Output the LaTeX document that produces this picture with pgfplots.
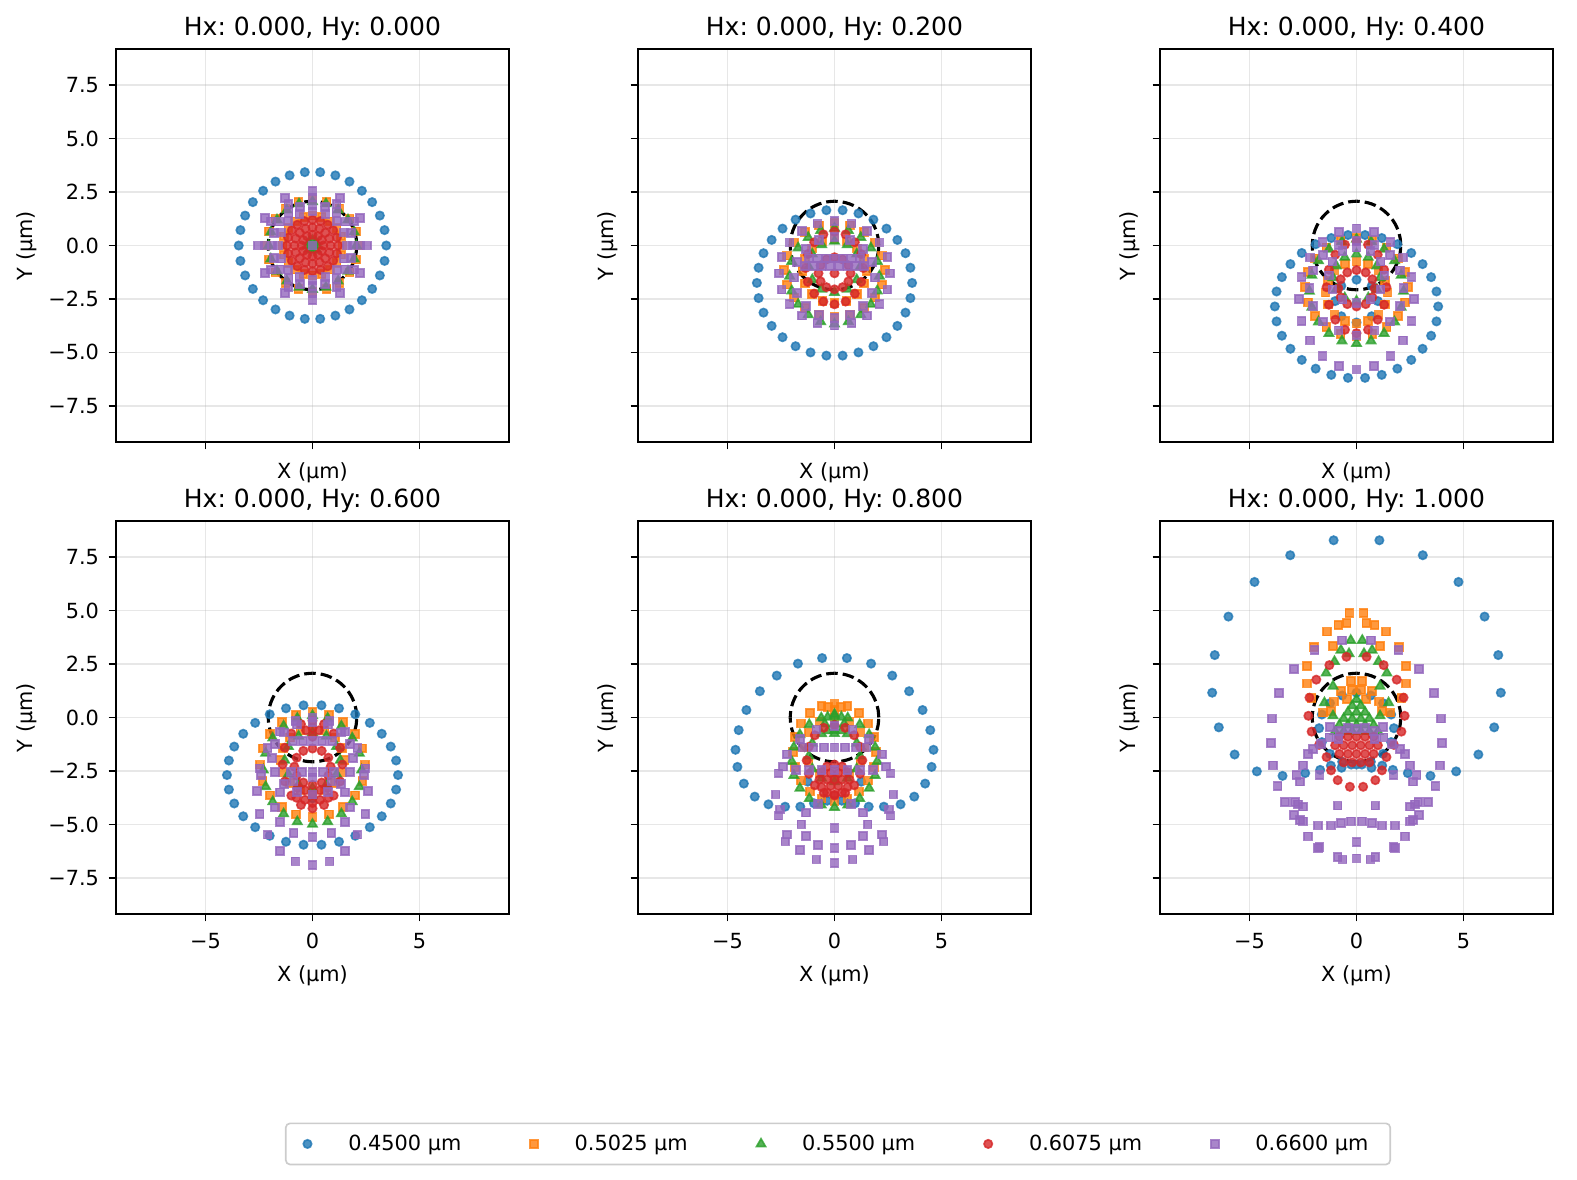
\documentclass[border=0pt]{standalone}
\usepackage{fontspec}
\setmainfont{DejaVu Sans}
\usepackage{pgfplots}
\pgfplotsset{compat=1.18}
\frenchspacing
\definecolor{c0}{HTML}{1F77B4}
\definecolor{c1}{HTML}{FF7F0E}
\definecolor{c2}{HTML}{2CA02C}
\definecolor{c3}{HTML}{D62728}
\definecolor{c4}{HTML}{9467BD}
\definecolor{gridc}{HTML}{B0B0B0}
\definecolor{legc}{HTML}{CCCCCC}
\pgfplotsset{
 s0/.style={only marks, mark=*, mark size=2.0pt, color=c0, mark options={opacity=0.8, line width=0.8pt, draw=c0, fill=c0}},
 s1/.style={only marks, mark=square*, mark size=1.9pt, color=c1, mark options={opacity=0.8, line width=0.8pt, draw=c1, fill=c1}},
 s2/.style={only marks, mark=triangle*, mark size=2.5pt, color=c2, mark options={opacity=0.8, line width=0.8pt, draw=c2, fill=c2}},
 s3/.style={only marks, mark=*, mark size=2.0pt, color=c3, mark options={opacity=0.8, line width=0.8pt, draw=c3, fill=c3}},
 s4/.style={only marks, mark=square*, mark size=1.9pt, color=c4, mark options={opacity=0.8, line width=0.8pt, draw=c4, fill=c4}},
 airy/.style={black, line width=1.5pt, dash pattern=on 5.55pt off 2.4pt, smooth, forget plot, no markers},
 panel/.style={
   width=188.64pt, height=188.64pt, scale only axis, anchor=north west,
   xmin=-9.19, xmax=9.19, ymin=-9.19, ymax=9.19,
   xtick={-5,0,5}, ytick={-7.5,-5,-2.5,0,2.5,5,7.5},
   xticklabels={}, yticklabels={},
   xtick pos=bottom, ytick pos=left,
   tick align=outside, major tick length=3.5pt,
   every tick/.style={black, line width=0.8pt},
   axis line style={line width=0.8pt},
   grid=major, major grid style={line width=0.8pt, color=gridc, opacity=0.3},
   axis on top,
   tick label style={font=\fontsize{10}{12}\selectfont},
   xticklabel style={anchor=north, inner sep=0pt, yshift=-5.5pt},
   yticklabel style={anchor=east, inner sep=0pt, xshift=-4.5pt},
   every axis title shift=0pt,
   title style={font=\fontsize{12}{14.4}\selectfont, at={(axis description cs:0.5,1)}, anchor=base, yshift=6.7pt},
   label style={font=\fontsize{10}{12}\selectfont},
   xlabel={X (µm)}, ylabel={Y (µm)},
 },
 toprow/.style={xlabel style={at={(axis description cs:0.5,-0.078)}, anchor=center}},
 botrow/.style={xticklabels={−5,0,5}, xlabel style={at={(axis description cs:0.5,-0.158)}, anchor=center}},
 leftcol/.style={yticklabels={−7.5,−5.0,−2.5,0.0,2.5,5.0,7.5}, ylabel style={at={(axis description cs:-0.2265,0.5)}, anchor=center}},
 othercol/.style={ylabel style={at={(axis description cs:-0.0763,0.5)}, anchor=center}},
}
\newcommand{\airy}{\addplot[airy] coordinates {(2.07,0) (2.039,0.360) (1.945,0.708) (1.793,1.035) (1.586,1.331) (1.331,1.586) (1.035,1.793) (0.708,1.945) (0.360,2.039) (0,2.07) (-0.360,2.039) (-0.708,1.945) (-1.035,1.793) (-1.331,1.586) (-1.586,1.331) (-1.793,1.035) (-1.945,0.708) (-2.039,0.360) (-2.07,0) (-2.039,-0.360) (-1.945,-0.708) (-1.793,-1.035) (-1.586,-1.331) (-1.331,-1.586) (-1.035,-1.793) (-0.708,-1.945) (-0.360,-2.039) (0,-2.07) (0.360,-2.039) (0.708,-1.945) (1.035,-1.793) (1.331,-1.586) (1.586,-1.331) (1.793,-1.035) (1.945,-0.708) (2.039,-0.360) (2.07,0)};}
\begin{document}
\frenchspacing
\begin{tikzpicture}
\path[use as bounding box] (0,0) rectangle (756.96pt,-565.92pt);
% ---------------- Panel 1
\begin{axis}[panel, toprow, leftcol, at={(55.68pt,-23.52pt)}, title={Hx: 0.000, Hy: 0.000}]
\addplot[s0] coordinates {(3.45,0)(-3.45,0)(3.37,0.72)(-3.37,0.72)(3.37,-0.72)(-3.37,-0.72)(3.15,1.40)(-3.15,1.40)(3.15,-1.40)(-3.15,-1.40)(2.79,2.03)(-2.79,2.03)(2.79,-2.03)(-2.79,-2.03)(2.31,2.56)(-2.31,2.56)(2.31,-2.56)(-2.31,-2.56)(1.73,2.99)(-1.73,2.99)(1.73,-2.99)(-1.73,-2.99)(1.07,3.28)(-1.07,3.28)(1.07,-3.28)(-1.07,-3.28)(0.36,3.43)(-0.36,3.43)(0.36,-3.43)(-0.36,-3.43)(0,0)};
\addplot[s1] coordinates {(2.15,0)(-2.15,0)(2.04,0.66)(-2.04,0.66)(2.04,-0.66)(-2.04,-0.66)(1.74,1.26)(-1.74,1.26)(1.74,-1.26)(-1.74,-1.26)(1.26,1.74)(-1.26,1.74)(1.26,-1.74)(-1.26,-1.74)(0.66,2.04)(-0.66,2.04)(0.66,-2.04)(-0.66,-2.04)(0,2.15)(0,-2.15)
(1.4,0)(-1.4,0)(1.33,0.43)(-1.33,0.43)(1.33,-0.43)(-1.33,-0.43)(1.13,0.82)(-1.13,0.82)(1.13,-0.82)(-1.13,-0.82)(0.82,1.13)(-0.82,1.13)(0.82,-1.13)(-0.82,-1.13)(0.43,1.33)(-0.43,1.33)(0.43,-1.33)(-0.43,-1.33)(0,1.4)(0,-1.4)};
\addplot[s2] coordinates {(2.05,0)(-2.05,0)(1.95,0.63)(-1.95,0.63)(1.95,-0.63)(-1.95,-0.63)(1.66,1.20)(-1.66,1.20)(1.66,-1.20)(-1.66,-1.20)(1.20,1.66)(-1.20,1.66)(1.20,-1.66)(-1.20,-1.66)(0.63,1.95)(-0.63,1.95)(0.63,-1.95)(-0.63,-1.95)(0,2.05)(0,-2.05)
(0.22,0)(-0.22,0)(0,0.22)(0,-0.22)(0.16,0.16)(-0.16,0.16)(0.16,-0.16)(-0.16,-0.16)};
\addplot[s3] coordinates {(1.2,0)(-1.2,0)(1.14,0.37)(-1.14,0.37)(1.14,-0.37)(-1.14,-0.37)(0.97,0.71)(-0.97,0.71)(0.97,-0.71)(-0.97,-0.71)(0.71,0.97)(-0.71,0.97)(0.71,-0.97)(-0.71,-0.97)(0.37,1.14)(-0.37,1.14)(0.37,-1.14)(-0.37,-1.14)(0,1.2)(0,-1.2)
(0.85,0)(-0.85,0)(0.79,0.33)(-0.79,0.33)(0.79,-0.33)(-0.79,-0.33)(0.60,0.60)(-0.60,0.60)(0.60,-0.60)(-0.60,-0.60)(0.33,0.79)(-0.33,0.79)(0.33,-0.79)(-0.33,-0.79)(0,0.85)(0,-0.85)
(0.5,0)(-0.5,0)(0.43,0.25)(-0.43,0.25)(0.43,-0.25)(-0.43,-0.25)(0.25,0.43)(-0.25,0.43)(0.25,-0.43)(-0.25,-0.43)(0,0.5)(0,-0.5)};
\addplot[s4] coordinates {(2.55,0)(-2.55,0)(2.21,1.28)(-2.21,1.28)(2.21,-1.28)(-2.21,-1.28)(1.28,2.21)(-1.28,2.21)(1.28,-2.21)(-1.28,-2.21)(0,2.55)(0,-2.55)
(2.25,0)(-2.25,0)(1.95,1.13)(-1.95,1.13)(1.95,-1.13)(-1.95,-1.13)(1.13,1.95)(-1.13,1.95)(1.13,-1.95)(-1.13,-1.95)(0,2.25)(0,-2.25)
(1.9,0)(-1.9,0)(1.81,0.59)(-1.81,0.59)(1.81,-0.59)(-1.81,-0.59)(1.54,1.12)(-1.54,1.12)(1.54,-1.12)(-1.54,-1.12)(1.12,1.54)(-1.12,1.54)(1.12,-1.54)(-1.12,-1.54)(0.59,1.81)(-0.59,1.81)(0.59,-1.81)(-0.59,-1.81)(0,1.9)(0,-1.9)
(1.6,0)(-1.6,0)(1.48,0.61)(-1.48,0.61)(1.48,-0.61)(-1.48,-0.61)(1.13,1.13)(-1.13,1.13)(1.13,-1.13)(-1.13,-1.13)(0.61,1.48)(-0.61,1.48)(0.61,-1.48)(-0.61,-1.48)(0,1.6)(0,-1.6)(0,0)};
\airy
\end{axis}
% ---------------- Panel 2
\begin{axis}[panel, toprow, othercol, at={(306.24pt,-23.52pt)}, title={Hx: 0.000, Hy: 0.200}]
\addplot[s0] coordinates {(3.63,-1.75)(-3.63,-1.75)(3.55,-1.04)(-3.55,-1.04)(3.55,-2.46)(-3.55,-2.46)(3.32,-0.36)(-3.32,-0.36)(3.32,-3.14)(-3.32,-3.14)(2.94,0.26)(-2.94,0.26)(2.94,-3.76)(-2.94,-3.76)(2.43,0.79)(-2.43,0.79)(2.43,-4.29)(-2.43,-4.29)(1.82,1.21)(-1.82,1.21)(1.82,-4.71)(-1.82,-4.71)(1.12,1.50)(-1.12,1.50)(1.12,-5.00)(-1.12,-5.00)(0.38,1.65)(-0.38,1.65)(0.38,-5.15)(-0.38,-5.15)};
\addplot[s1] coordinates {(2.35,-1.15)(-2.35,-1.15)(2.23,-0.47)(-2.23,-0.47)(2.23,-1.83)(-2.23,-1.83)(1.90,0.14)(-1.90,0.14)(1.90,-2.44)(-1.90,-2.44)(1.38,0.63)(-1.38,0.63)(1.38,-2.93)(-1.38,-2.93)(0.73,0.94)(-0.73,0.94)(0.73,-3.24)(-0.73,-3.24)(0,1.05)(0,-3.35)
(1.5,-1.2)(-1.5,-1.2)(1.39,-0.63)(-1.39,-0.63)(1.39,-1.77)(-1.39,-1.77)(1.06,-0.14)(-1.06,-0.14)(1.06,-2.26)(-1.06,-2.26)(0.57,0.19)(-0.57,0.19)(0.57,-2.59)(-0.57,-2.59)(0,0.3)(0,-2.7)};
\addplot[s2] coordinates {(2.1,-1.43)(-2.1,-1.43)(2.0,-0.74)(-2.0,-0.74)(2.0,-2.12)(-2.0,-2.12)(1.70,-0.11)(-1.70,-0.11)(1.70,-2.75)(-1.70,-2.75)(1.23,0.38)(-1.23,0.38)(1.23,-3.24)(-1.23,-3.24)(0.65,0.70)(-0.65,0.70)(0.65,-3.56)(-0.65,-3.56)(0,0.81)(0,-3.67)
(1.2,-1)(-1.2,-1)(1.04,-0.4)(-1.04,-0.4)(0.6,0.04)(-0.6,0.04)(0,0.2)(1.04,-1.6)(-1.04,-1.6)(0.6,-2.04)(-0.6,-2.04)(0,-2.2)};
\addplot[s3] coordinates {(1.35,-1.05)(-1.35,-1.05)(1.25,-0.40)(-1.25,-0.40)(1.25,-1.70)(-1.25,-1.70)(0.95,0.15)(-0.95,0.15)(0.95,-2.25)(-0.95,-2.25)(0.52,0.52)(-0.52,0.52)(0.52,-2.62)(-0.52,-2.62)(0,0.65)(0,-2.75)
(0.75,-1.3)(-0.75,-1.3)(0.65,-0.93)(-0.65,-0.93)(0.38,-0.65)(-0.38,-0.65)(0,-0.55)(0.65,-1.68)(-0.65,-1.68)(0.38,-1.95)(-0.38,-1.95)(0,-2.05)(0,-1.3)};
\addplot[s4] coordinates {(2.6,-1.3)(-2.6,-1.3)(2.47,-0.54)(-2.47,-0.54)(2.47,-2.06)(-2.47,-2.06)(2.10,0.14)(-2.10,0.14)(2.10,-2.74)(-2.10,-2.74)(1.53,0.68)(-1.53,0.68)(1.53,-3.28)(-1.53,-3.28)(0.80,1.03)(-0.80,1.03)(0.80,-3.63)(-0.80,-3.63)(0,1.15)(0,-3.75)
(1.9,-1.5)(-1.9,-1.5)(1.76,-0.77)(-1.76,-0.77)(1.76,-2.23)(-1.76,-2.23)(1.34,-0.16)(-1.34,-0.16)(1.34,-2.84)(-1.34,-2.84)(0.73,0.26)(-0.73,0.26)(0.73,-3.26)(-0.73,-3.26)(0,0.4)(0,-3.4)
(0,-0.6)(0.4,-0.6)(-0.4,-0.6)(0.8,-0.6)(-0.8,-0.6)(1.2,-0.6)(-1.2,-0.6)(0.2,-0.95)(-0.2,-0.95)(0.6,-0.95)(-0.6,-0.95)(1.0,-0.95)(-1.0,-0.95)(1.4,-0.95)(-1.4,-0.95)};
\airy
\end{axis}
% ---------------- Panel 3
\begin{axis}[panel, toprow, othercol, at={(556.8pt,-23.52pt)}, title={Hx: 0.000, Hy: 0.400}]
\addplot[s0] coordinates {(3.82,-2.85)(-3.82,-2.85)(3.74,-2.15)(-3.74,-2.15)(3.74,-3.55)(-3.74,-3.55)(3.49,-1.48)(-3.49,-1.48)(3.49,-4.22)(-3.49,-4.22)(3.09,-0.87)(-3.09,-0.87)(3.09,-4.83)(-3.09,-4.83)(2.56,-0.35)(-2.56,-0.35)(2.56,-5.35)(-2.56,-5.35)(1.91,0.06)(-1.91,0.06)(1.91,-5.76)(-1.91,-5.76)(1.18,0.35)(-1.18,0.35)(1.18,-6.05)(-1.18,-6.05)(0.40,0.49)(-0.40,0.49)(0.40,-6.19)(-0.40,-6.19)
(1,-2.6)(-1,-2.6)(0.71,-1.89)(-0.71,-1.89)(0,-1.6)(0.71,-3.31)(-0.71,-3.31)(0,-3.6)};
\addplot[s1] coordinates {(2.4,-1.95)(-2.4,-1.95)(2.28,-1.24)(-2.28,-1.24)(2.28,-2.66)(-2.28,-2.66)(1.94,-0.60)(-1.94,-0.60)(1.94,-3.30)(-1.94,-3.30)(1.41,-0.09)(-1.41,-0.09)(1.41,-3.81)(-1.41,-3.81)(0.74,0.24)(-0.74,0.24)(0.74,-4.14)(-0.74,-4.14)(0,0.35)(0,-4.25)
(1.45,-2.2)(-1.45,-2.2)(1.34,-1.65)(-1.34,-1.65)(1.34,-2.75)(-1.34,-2.75)(1.03,-1.17)(-1.03,-1.17)(1.03,-3.23)(-1.03,-3.23)(0.55,-0.86)(-0.55,-0.86)(0.55,-3.54)(-0.55,-3.54)(0,-0.75)(0,-3.65)};
\addplot[s2] coordinates {(2.2,-2.14)(-2.2,-2.14)(2.09,-1.39)(-2.09,-1.39)(2.09,-2.89)(-2.09,-2.89)(1.78,-0.71)(-1.78,-0.71)(1.78,-3.57)(-1.78,-3.57)(1.29,-0.17)(-1.29,-0.17)(1.29,-4.11)(-1.29,-4.11)(0.68,0.18)(-0.68,0.18)(0.68,-4.46)(-0.68,-4.46)(0,0.30)(0,-4.58)
(1.1,-1.5)(-1.1,-1.5)(0.95,-0.95)(-0.95,-0.95)(0.55,-0.55)(-0.55,-0.55)(0,-0.4)(0.95,-2.05)(-0.95,-2.05)(0.55,-2.45)(-0.55,-2.45)(0,-2.6)};
\addplot[s3] coordinates {(1.4,-1.95)(-1.4,-1.95)(1.29,-1.13)(-1.29,-1.13)(1.29,-2.77)(-1.29,-2.77)(0.99,-0.43)(-0.99,-0.43)(0.99,-3.47)(-0.99,-3.47)(0.54,0.04)(-0.54,0.04)(0.54,-3.94)(-0.54,-3.94)(0,0.20)(0,-4.10)
(0.85,-2)(-0.85,-2)(0.74,-1.58)(-0.74,-1.58)(0.43,-1.26)(-0.43,-1.26)(0,-1.15)(0.74,-2.42)(-0.74,-2.42)(0.43,-2.74)(-0.43,-2.74)(0,-2.85)};
\addplot[s4] coordinates {(2.7,-2.5)(-2.7,-2.5)(2.57,-1.48)(-2.57,-1.48)(2.57,-3.52)(-2.57,-3.52)(2.18,-0.56)(-2.18,-0.56)(2.18,-4.44)(-2.18,-4.44)(1.59,0.17)(-1.59,0.17)(1.59,-5.17)(-1.59,-5.17)(0.83,0.64)(-0.83,0.64)(0.83,-5.64)(-0.83,-5.64)(0,0.80)(0,-5.80)
(2.2,-2)(-2.2,-2)(2.03,-1.16)(-2.03,-1.16)(2.03,-2.84)(-2.03,-2.84)(1.56,-0.44)(-1.56,-0.44)(1.56,-3.56)(-1.56,-3.56)(0.84,0.03)(-0.84,0.03)(0.84,-3.97)(-0.84,-3.97)(0,0.2)(0,-4.2)
(1.3,-1.4)(-1.3,-1.4)(1.13,-0.75)(-1.13,-0.75)(0.65,-0.27)(-0.65,-0.27)(0,-0.1)(1.13,-2.05)(-1.13,-2.05)(0.65,-2.53)(-0.65,-2.53)(0,-2.7)};
\airy
\end{axis}
% ---------------- Panel 4
\begin{axis}[panel, botrow, leftcol, at={(55.68pt,-250.08pt)}, title={Hx: 0.000, Hy: 0.600}]
\addplot[s0] coordinates {(4.0,-2.69)(-4.0,-2.69)(3.91,-2.01)(-3.91,-2.01)(3.91,-3.37)(-3.91,-3.37)(3.66,-1.36)(-3.66,-1.36)(3.66,-4.02)(-3.66,-4.02)(3.24,-0.76)(-3.24,-0.76)(3.24,-4.62)(-3.24,-4.62)(2.68,-0.25)(-2.68,-0.25)(2.68,-5.13)(-2.68,-5.13)(2.0,0.15)(-2.0,0.15)(2.0,-5.53)(-2.0,-5.53)(1.24,0.43)(-1.24,0.43)(1.24,-5.81)(-1.24,-5.81)(0.42,0.57)(-0.42,0.57)(0.42,-5.95)(-0.42,-5.95)(0,-3.78)};
\addplot[s1] coordinates {(2.45,-2.2)(-2.45,-2.2)(2.33,-1.44)(-2.33,-1.44)(2.33,-2.96)(-2.33,-2.96)(1.98,-0.76)(-1.98,-0.76)(1.98,-3.64)(-1.98,-3.64)(1.44,-0.22)(-1.44,-0.22)(1.44,-4.18)(-1.44,-4.18)(0.76,0.13)(-0.76,0.13)(0.76,-4.53)(-0.76,-4.53)(0,0.25)(0,-4.65)
(1.5,-2)(-1.5,-2)(1.39,-1.43)(-1.39,-1.43)(1.39,-2.57)(-1.39,-2.57)(1.06,-0.94)(-1.06,-0.94)(1.06,-3.06)(-1.06,-3.06)(0.57,-0.61)(-0.57,-0.61)(0.57,-3.39)(-0.57,-3.39)(0,-0.5)(0,-3.5)};
\addplot[s2] coordinates {(2.3,-2.45)(-2.3,-2.45)(2.19,-1.67)(-2.19,-1.67)(2.19,-3.23)(-2.19,-3.23)(1.86,-0.96)(-1.86,-0.96)(1.86,-3.94)(-1.86,-3.94)(1.35,-0.40)(-1.35,-0.40)(1.35,-4.50)(-1.35,-4.50)(0.71,-0.03)(-0.71,-0.03)(0.71,-4.87)(-0.71,-4.87)(0,0.09)(0,-4.99)
(1.3,-2)(-1.3,-2)(1.13,-1.35)(-1.13,-1.35)(0.65,-0.87)(-0.65,-0.87)(0,-0.7)(1.13,-2.65)(-1.13,-2.65)(0.65,-3.13)(-0.65,-3.13)(0,-3.3)};
\addplot[s3] coordinates {(1.4,-2.2)(-1.4,-2.2)(1.29,-1.41)(-1.29,-1.41)(1.29,-2.99)(-1.29,-2.99)(0.99,-0.75)(-0.99,-0.75)(0.99,-3.65)(-0.99,-3.65)(0.54,-0.31)(-0.54,-0.31)(0.54,-4.09)(-0.54,-4.09)(0,-0.15)(0,-4.25)
(0.85,-2.3)(-0.85,-2.3)(0.74,-1.88)(-0.74,-1.88)(0.43,-1.56)(-0.43,-1.56)(0,-1.45)(0.74,-2.72)(-0.74,-2.72)(0.43,-3.04)(-0.43,-3.04)(0,-3.15)
(0,-3.6)(0.35,-3.4)(-0.35,-3.4)(0.7,-3.3)(-0.7,-3.3)(0.35,-3.85)(-0.35,-3.85)(0.75,-3.75)(-0.75,-3.75)(0,-4.0)(0,-0.5)(0.3,-0.6)(-0.3,-0.6)(0,-0.9)};
\addplot[s4] coordinates {(2.6,-3.45)(-2.6,-3.45)(2.47,-2.38)(-2.47,-2.38)(2.47,-4.52)(-2.47,-4.52)(2.10,-1.42)(-2.10,-1.42)(2.10,-5.48)(-2.10,-5.48)(1.53,-0.66)(-1.53,-0.66)(1.53,-6.24)(-1.53,-6.24)(0.80,-0.17)(-0.80,-0.17)(0.80,-6.73)(-0.80,-6.73)(0,0)(0,-6.90)
(1.75,-4.2)(-1.75,-4.2)(1.52,-3.5)(-1.52,-3.5)(0.88,-2.99)(-0.88,-2.99)(0,-2.8)(1.52,-4.9)(-1.52,-4.9)(0.88,-5.41)(-0.88,-5.41)(0,-5.6)
(1.9,-1.9)(-1.9,-1.9)(1.76,-1.25)(-1.76,-1.25)(1.76,-2.55)(-1.76,-2.55)(1.34,-0.70)(-1.34,-0.70)(1.34,-3.10)(-1.34,-3.10)(0.73,-0.33)(-0.73,-0.33)(0.73,-3.47)(-0.73,-3.47)(0,-0.2)(0,-3.6)
(0,-2.55)(0.5,-2.55)(-0.5,-2.55)(1.0,-2.55)(-1.0,-2.55)(2.4,-2.7)(-2.4,-2.7)(0,-1.1)(0.45,-1.1)(-0.45,-1.1)(0.9,-1.1)(-0.9,-1.1)};
\airy
\end{axis}
% ---------------- Panel 5
\begin{axis}[panel, botrow, othercol, at={(306.24pt,-250.08pt)}, title={Hx: 0.000, Hy: 0.800},
  legend columns=5,
  legend style={at={(axis description cs:0.5089,-0.585)}, anchor=center, draw=legc, line width=0.8pt, rounded corners=2pt,
    font=\fontsize{10}{12}\selectfont, inner xsep=8.4pt, inner ysep=3.4pt,
    /tikz/every odd column/.append style={column sep=15.6pt},
    /tikz/every even column/.append style={column sep=31pt}}]
\addplot[s0] coordinates {(0.58,2.78)(-0.58,2.78)(1.71,2.52)(-1.71,2.52)(2.70,1.96)(-2.70,1.96)(3.49,1.23)(-3.49,1.23)(4.12,0.35)(-4.12,0.35)(4.48,-0.59)(-4.48,-0.59)(4.63,-1.51)(-4.63,-1.51)(4.54,-2.31)(-4.54,-2.31)(4.24,-3.09)(-4.24,-3.09)(3.73,-3.70)(-3.73,-3.70)(3.09,-4.06)(-3.09,-4.06)(2.31,-4.17)(-2.31,-4.17)(1.60,-4.17)(-1.60,-4.17)(0.96,-4.01)(-0.96,-4.01)(0.34,-3.89)(-0.34,-3.89)(1.25,-3.0)(-1.25,-3.0)};
\addplot[s1] coordinates {(1.95,-1.6)(-1.95,-1.6)(1.85,-0.90)(-1.85,-0.90)(1.85,-2.31)(-1.85,-2.31)(1.58,-0.28)(-1.58,-0.28)(1.58,-2.95)(-1.58,-2.95)(1.15,0.22)(-1.15,0.22)(1.15,-3.46)(-1.15,-3.46)(0.60,0.54)(-0.60,0.54)(0.60,-3.79)(-0.60,-3.79)(0,0.65)(0,-3.90)
(1.4,-1.4)(-1.4,-1.4)(1.21,-0.7)(-1.21,-0.7)(0.7,-0.19)(-0.7,-0.19)(0,0)(1.21,-2.1)(-1.21,-2.1)(0.7,-2.61)(-0.7,-2.61)(0,-2.8)(0.3,0.5)(-0.3,0.5)(0,0.35)};
\addplot[s2] coordinates {(2.0,-2.05)(-2.0,-2.05)(1.90,-1.39)(-1.90,-1.39)(1.90,-2.71)(-1.90,-2.71)(1.62,-0.80)(-1.62,-0.80)(1.62,-3.31)(-1.62,-3.31)(1.18,-0.33)(-1.18,-0.33)(1.18,-3.79)(-1.18,-3.79)(0.62,-0.02)(-0.62,-0.02)(0.62,-4.09)(-0.62,-4.09)(0,0.08)(0,-4.20)
(0.45,-0.3)(-0.45,-0.3)(0.32,0.02)(-0.32,0.02)(0,0.15)(0.32,-0.62)(-0.32,-0.62)(0,-0.75)(0,-0.3)
(1.2,-1.8)(-1.2,-1.8)(1.04,-1.2)(-1.04,-1.2)(0.6,-0.76)(-0.6,-0.76)(0,-0.6)(1.04,-2.4)(-1.04,-2.4)(0.6,-2.84)(-0.6,-2.84)(0,-3.0)};
\addplot[s3] coordinates {(1.3,-2)(-1.3,-2)(1.20,-1.37)(-1.20,-1.37)(1.20,-2.63)(-1.20,-2.63)(0.92,-0.83)(-0.92,-0.83)(0.92,-3.17)(-0.92,-3.17)(0.50,-0.48)(-0.50,-0.48)(0.50,-3.52)(-0.50,-3.52)(0,-0.35)(0,-3.65)
(0.7,-2.9)(-0.7,-2.9)(0.61,-2.55)(-0.61,-2.55)(0.35,-2.29)(-0.35,-2.29)(0,-2.2)(0.61,-3.25)(-0.61,-3.25)(0.35,-3.51)(-0.35,-3.51)(0,-3.6)
(0.35,-2.9)(-0.35,-2.9)(0.18,-2.6)(-0.18,-2.6)(0.18,-3.2)(-0.18,-3.2)(0,-2.9)};
\addplot[s4] coordinates {(2.75,-3.6)(-2.75,-3.6)(2.62,-2.61)(-2.62,-2.61)(2.62,-4.59)(-2.62,-4.59)(2.22,-1.72)(-2.22,-1.72)(2.22,-5.48)(-2.22,-5.48)(1.62,-1.01)(-1.62,-1.01)(1.62,-6.19)(-1.62,-6.19)(0.85,-0.56)(-0.85,-0.56)(0.85,-6.64)(-0.85,-6.64)(0,-0.4)(0,-6.80)
(1.55,-5)(-1.55,-5)(1.34,-4.45)(-1.34,-4.45)(0.78,-4.05)(-0.78,-4.05)(1.34,-5.55)(-1.34,-5.55)(0.78,-5.95)(-0.78,-5.95)(0,-6.1)(0,-5.17)
(2.55,-4.3)(-2.55,-4.3)(2.3,-5.8)(-2.3,-5.8)
(0,-1.4)(0.5,-1.4)(-0.5,-1.4)(1.0,-1.4)(-1.0,-1.4)(1.5,-1.4)(-1.5,-1.4)
(0,-2.45)(0.6,-2.45)(-0.6,-2.45)(1.2,-2.45)(-1.2,-2.45)(1.8,-2.45)(-1.8,-2.45)(2.4,-2.3)(-2.4,-2.3)};
\airy
\legend{0.4500 µm, 0.5025 µm, 0.5500 µm, 0.6075 µm, 0.6600 µm}
\end{axis}
% ---------------- Panel 6
\begin{axis}[panel, botrow, othercol, at={(556.8pt,-250.08pt)}, title={Hx: 0.000, Hy: 1.000}]
\addplot[s0] coordinates {(1.07,8.29)(-1.07,8.29)(3.10,7.59)(-3.10,7.59)(4.77,6.34)(-4.77,6.34)(5.99,4.72)(-5.99,4.72)(6.63,2.92)(-6.63,2.92)(6.75,1.16)(-6.75,1.16)(6.44,-0.46)(-6.44,-0.46)(5.70,-1.73)(-5.70,-1.73)(4.66,-2.52)(-4.66,-2.52)(3.46,-2.73)(-3.46,-2.73)(2.4,-2.6)(-2.4,-2.6)(1.7,-2.45)(-1.7,-2.45)(1.2,-2.25)(-1.2,-2.25)(0.7,-2.35)(-0.7,-2.35)(0.25,-2.2)(-0.25,-2.2)
(1.75,-0.5)(-1.75,-0.5)(1.62,0.14)(-1.62,0.14)(1.62,-1.15)(-1.62,-1.15)(1.24,0.67)(-1.24,0.67)(1.24,-1.70)(-1.24,-1.70)(0.67,1.03)(-0.67,1.03)(0.67,-2.07)(-0.67,-2.07)(0,1.16)(0,-2.2)};
\addplot[s1] coordinates {(0.33,4.89)(-0.33,4.89)(0.46,4.43)(-0.46,4.43)(0.85,4.34)(-0.85,4.34)(1.38,4.02)(-1.38,4.02)(1.10,3.35)(-1.10,3.35)(1.99,3.30)(-1.99,3.30)(2.31,2.42)(-2.31,2.42)(2.32,1.59)(-2.32,1.59)(2.1,0.9)(-2.1,0.9)(1.58,0.23)(-1.58,0.23)
(0.27,1.70)(-0.27,1.70)(0.73,1.23)(-0.73,1.23)(1.05,0.75)(-1.05,0.75)(1.2,0.3)(-1.2,0.3)(0.45,0.85)(-0.45,0.85)(0.2,1.3)(-0.2,1.3)};
\addplot[s2] coordinates {(0.27,3.61)(-0.27,3.61)(0.73,3.15)(-0.73,3.15)(0.35,2.99)(-0.35,2.99)(1.03,2.62)(-1.03,2.62)(1.42,2.08)(-1.42,2.08)(1.10,1.47)(-1.10,1.47)(1.50,0.69)(-1.50,0.69)(1.10,0.08)(-1.10,0.08)
(0,0.85)(0.2,0.55)(-0.2,0.55)(0,0.25)(0.4,0.25)(-0.4,0.25)(0.2,-0.05)(-0.2,-0.05)(0.6,-0.05)(-0.6,-0.05)(0,-0.35)(0.4,-0.35)(-0.4,-0.35)(0.8,-0.35)(-0.8,-0.35)(0.2,-0.65)(-0.2,-0.65)(0.6,-0.65)(-0.6,-0.65)(1.0,-0.65)(-1.0,-0.65)};
\addplot[s3] coordinates {(0.47,2.84)(-0.47,2.84)(1.27,2.45)(-1.27,2.45)(1.88,1.77)(-1.88,1.77)(2.20,0.93)(-2.20,0.93)(2.25,0.08)(-2.25,0.08)(2.10,-0.66)(-2.10,-0.66)(1.75,-1.28)(-1.75,-1.28)(1.40,-1.85)(-1.40,-1.85)(1.19,-2.47)(-1.19,-2.47)(0.88,-2.93)(-0.88,-2.93)(0.31,-3.24)(-0.31,-3.24)
(0,-0.9)(0.4,-0.9)(-0.4,-0.9)(0.8,-0.9)(-0.8,-0.9)(0.2,-1.3)(-0.2,-1.3)(0.6,-1.3)(-0.6,-1.3)(1.0,-1.3)(-1.0,-1.3)(0,-1.7)(0.4,-1.7)(-0.4,-1.7)(0.8,-1.7)(-0.8,-1.7)(0.2,-2.1)(-0.2,-2.1)(0.6,-2.1)(-0.6,-2.1)};
\addplot[s4] coordinates {(0.69,3.61)(-0.69,3.61)(1.96,3.15)(-1.96,3.15)(2.92,2.27)(-2.92,2.27)(3.63,1.16)(-3.63,1.16)(3.94,-0.05)(-3.94,-0.05)(4.00,-1.20)(-4.00,-1.20)(3.90,-2.24)(-3.90,-2.24)(3.69,-3.19)(-3.69,-3.19)(3.35,-3.94)(-3.35,-3.94)(2.92,-4.55)(-2.92,-4.55)(2.65,-4.78)(-2.65,-4.78)(2.27,-5.56)(-2.27,-5.56)(1.73,-6.06)(-1.73,-6.06)(0.88,-6.53)(-0.88,-6.53)(0.65,-6.64)(-0.65,-6.64)(0,-6.59)
(0,-0.54)(0.8,-0.62)(-0.8,-0.62)(1.27,-0.93)(-1.27,-0.93)(1.65,-1.23)(-1.65,-1.23)(2.04,-1.47)(-2.04,-1.47)(2.27,-1.70)(-2.27,-1.70)(2.50,-2.24)(-2.50,-2.24)(2.81,-2.70)(-2.81,-2.70)(2.65,-3.00)(-2.65,-3.00)(2.89,-3.94)(-2.89,-3.94)(2.73,-4.06)(-2.73,-4.06)(2.50,-4.17)(-2.50,-4.17)(2.50,-4.86)(-2.50,-4.86)(1.80,-5.05)(-1.80,-5.05)(1.19,-5.05)(-1.19,-5.05)(0.73,-4.94)(-0.73,-4.94)(0.26,-4.86)(-0.26,-4.86)
(1.73,-2.70)(-1.73,-2.70)(0.88,-4.12)(-0.88,-4.12)(0,-5.83)(1.8,-6.1)(-1.8,-6.1)(0.85,-1.0)(-0.85,-1.0)(1.25,-0.45)(-1.25,-0.45)(0.4,-0.5)(-0.4,-0.5)};
\airy
\end{axis}
\end{tikzpicture}
\end{document}
